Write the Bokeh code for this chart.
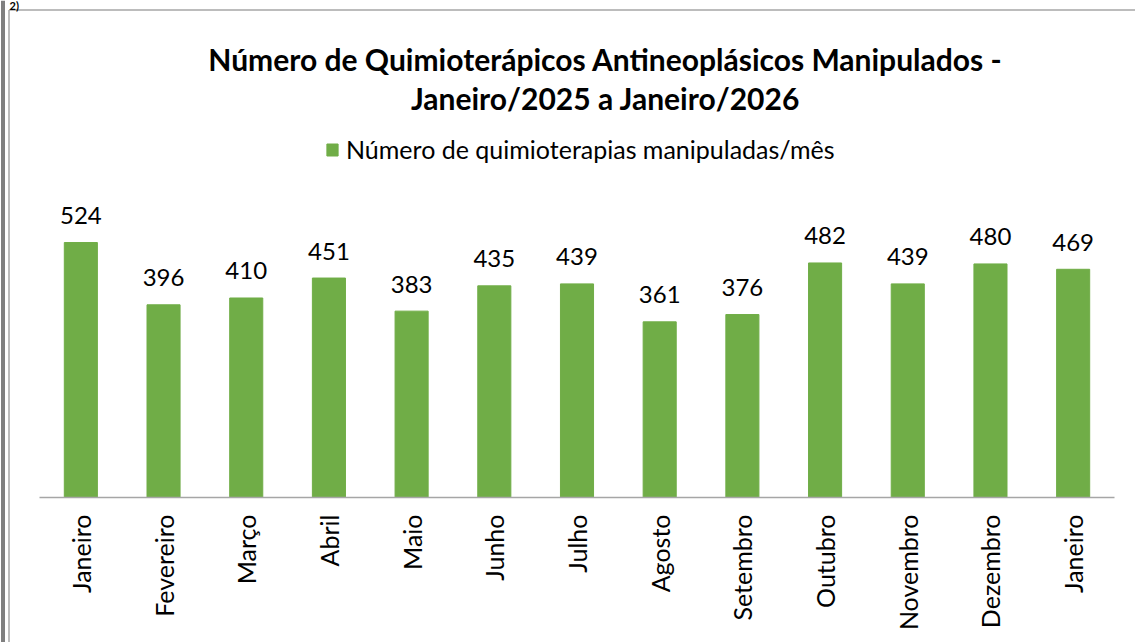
import math
from bokeh.plotting import figure
from bokeh.models import Range1d, Label, Legend, LegendItem, ColumnDataSource, Span
from bokeh.core.properties import value
from bokeh.embed import file_html
from bokeh.resources import INLINE

# ---- data ----
months = ["Janeiro", "Fevereiro", "Março", "Abril", "Maio", "Junho", "Julho",
          "Agosto", "Setembro", "Outubro", "Novembro", "Dezembro", "Janeiro"]
counts = [524, 396, 410, 451, 383, 435, 439, 361, 376, 482, 439, 480, 469]
title_line1 = "Número de Quimioterápicos Antineoplásicos Manipulados -"
title_line2 = "Janeiro/2025 a Janeiro/2026"
series_name = "Número de quimioterapias manipuladas/mês"

FONT = "Lato"
GREEN = "#70ad47"
GRAY = "#a6a6a6"

W, H = 1135, 642
# layout of the plotting area (pixels)
LEFT, RIGHT, BASE = 39, 1114, 497
n = len(counts)
XPX = (RIGHT - LEFT) / n          # pixels per category
YPX = 0.4866                      # pixels per unit
x0 = -0.5 - LEFT / XPX
y1 = BASE / YPX

def px2x(px):
    return x0 + px / XPX

def py2y(py):
    return (BASE - py) / YPX

p = figure(width=W, height=H, output_backend="svg", toolbar_location=None,
           x_range=Range1d(x0, x0 + W / XPX), y_range=Range1d(py2y(H), y1),
           x_axis_location=None, y_axis_location=None,
           min_border_left=0, min_border_right=0, min_border_top=0,
           min_border_bottom=0)
p.outline_line_color = None
p.xgrid.grid_line_color = None
p.ygrid.grid_line_color = None
p.background_fill_color = "white"
p.border_fill_color = "white"

# page / chart borders
p.add_layout(Span(location=px2x(1.5), dimension="height", line_color="black", line_width=1))
p.add_layout(Span(location=px2x(3.5), dimension="height", line_color="black", line_width=1))
p.segment(x0=[px2x(8.5), px2x(8.5)], y0=[py2y(9.5), py2y(9.5)],
          x1=[px2x(8.5), px2x(W)], y1=[py2y(H), py2y(9.5)],
          line_color=GRAY, line_width=1.5)
p.add_layout(Label(x=px2x(9), y=py2y(5), text="2)", text_baseline="alphabetic",
                   text_font=FONT, text_font_style="bold", text_font_size="11px",
                   text_color="black"))

src = ColumnDataSource(dict(x=list(range(n)), counts=counts,
                            label=[str(c) for c in counts], month=months,
                            zero=[0] * n))
r = p.vbar(x="x", top="counts", width=0.4, source=src, color=GREEN)
p.text(x="x", y="counts", text="label", source=src, text_align="center",
       text_baseline="alphabetic", y_offset=-27, text_font=value(FONT),
       text_font_size="24px", text_color="black")

# category axis: baseline and rotated labels
p.segment(x0=-0.5, y0=0, x1=n - 0.5, y1=0, line_color=GRAY, line_width=1.5)
p.text(x="x", y="zero", text="month", source=src, angle=math.pi / 2,
       text_align="right", text_baseline="middle", y_offset=17,
       text_font=value(FONT), text_font_size="25px", text_color="black")

p.add_layout(Label(x=6.345, y=902, text=title_line1, text_align="center",
                   text_baseline="alphabetic", text_font=FONT, text_font_style="bold",
                   text_font_size="30px", text_color="black"))
p.add_layout(Label(x=6.345, y=822, text=title_line2, text_align="center",
                   text_baseline="alphabetic", text_font=FONT, text_font_style="bold",
                   text_font_size="30px", text_color="black"))

legend = Legend(items=[LegendItem(label=series_name, renderers=[r])],
                location=(325, 478), orientation="horizontal",
                glyph_width=14, glyph_height=15, label_standoff=7,
                label_text_font=FONT, label_text_font_size="25px",
                label_text_color="black", border_line_color=None,
                background_fill_alpha=0, padding=0, margin=0)
p.add_layout(legend)

open("out.html", "w").write(file_html(p, INLINE))
